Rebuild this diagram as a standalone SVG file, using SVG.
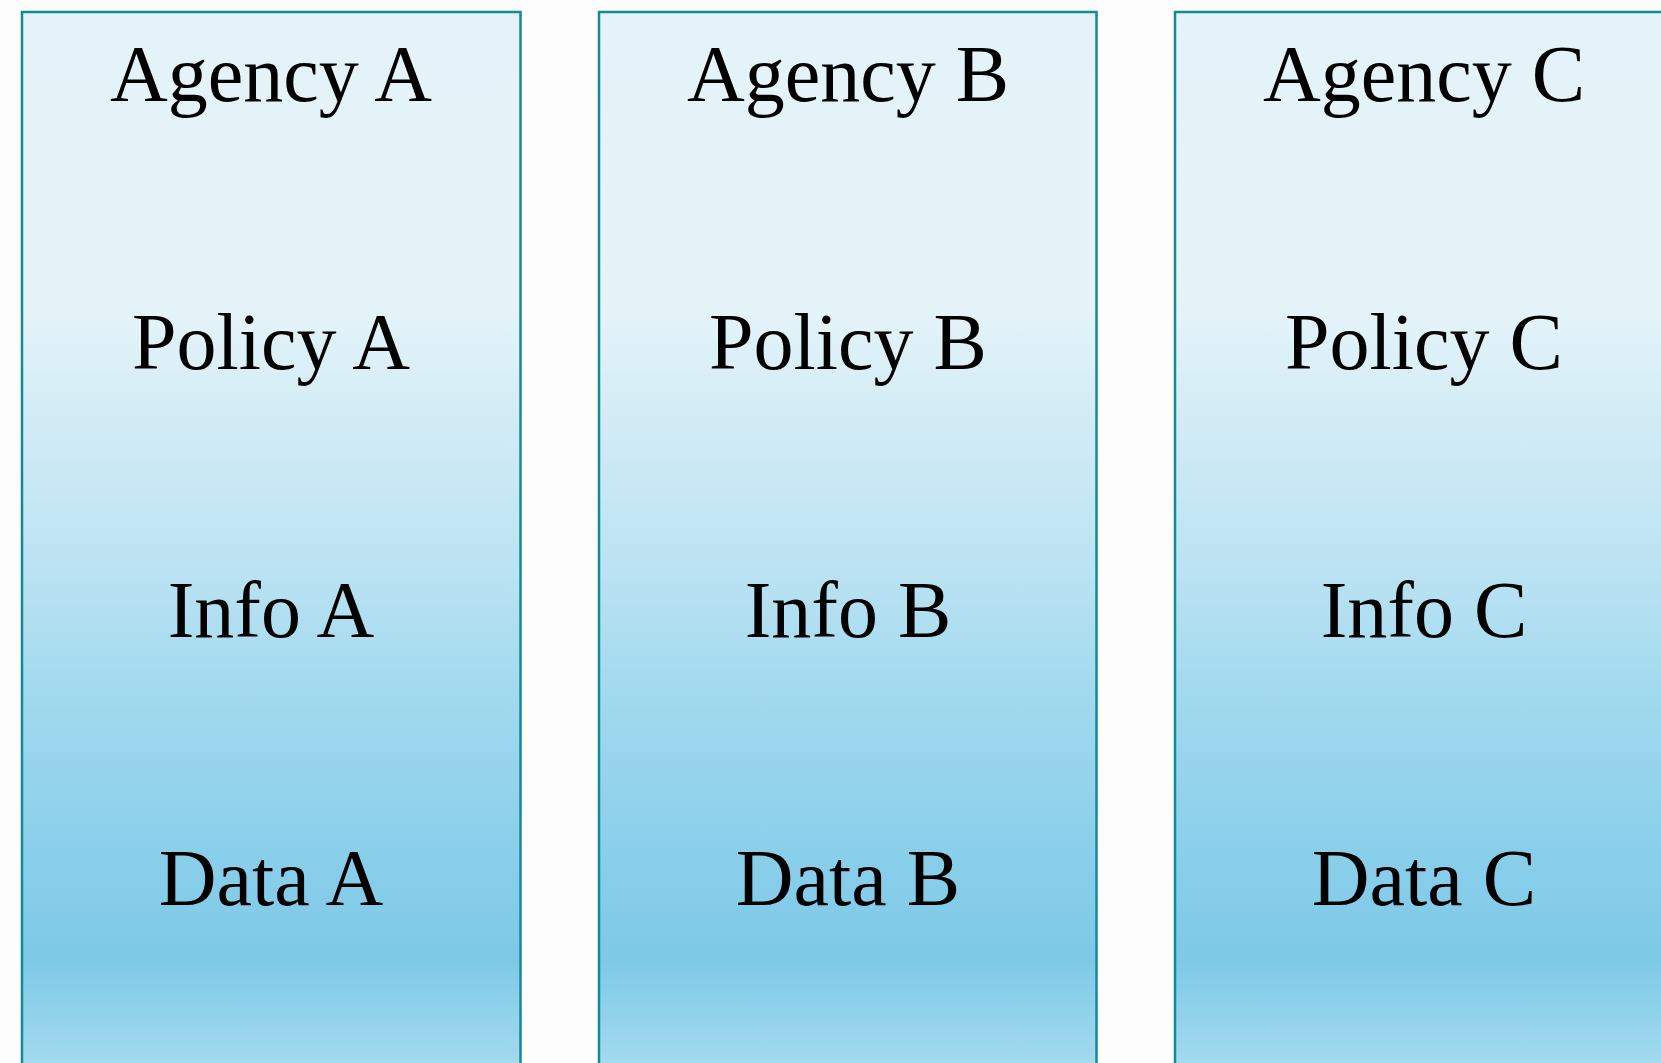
<svg xmlns="http://www.w3.org/2000/svg" width="1661" height="1063" viewBox="0 0 1661 1063">
  <defs>
    <linearGradient id="fill" gradientUnits="userSpaceOnUse" x1="0" y1="12" x2="0" y2="1063">
      <stop offset="0" stop-color="#E4F3F9"/>
      <stop offset="0.274" stop-color="#E6F4F9"/>
      <stop offset="0.369" stop-color="#D5EDF6"/>
      <stop offset="0.512" stop-color="#BEE4F3"/>
      <stop offset="0.654" stop-color="#A1D9EE"/>
      <stop offset="0.797" stop-color="#8ACFEA"/>
      <stop offset="0.902" stop-color="#7EC9E7"/>
      <stop offset="1" stop-color="#A3DAEF"/>
    </linearGradient>
  </defs>
  <style>
    .box { fill: url(#fill); stroke: #138A96; stroke-width: 2.5; }
    .lbl { font-family: "Liberation Serif", "DejaVu Serif", serif; font-size: 80px; fill: #000; text-anchor: middle; }
  </style>
  <rect x="0" y="0" width="1661" height="1063" fill="#FDFDFD"/>
  <g id="agency-a">
    <rect class="box" x="22" y="12" width="498.5" height="1070"/>
    <text class="lbl" x="271" y="101">Agency A</text>
    <text class="lbl" x="271" y="369">Policy A</text>
    <text class="lbl" x="271" y="637">Info A</text>
    <text class="lbl" x="271" y="905">Data A</text>
  </g>
  <g id="agency-b">
    <rect class="box" x="599" y="12" width="497.5" height="1070"/>
    <text class="lbl" x="848" y="101">Agency B</text>
    <text class="lbl" x="848" y="369">Policy B</text>
    <text class="lbl" x="848" y="637">Info B</text>
    <text class="lbl" x="848" y="905">Data B</text>
  </g>
  <g id="agency-c">
    <rect class="box" x="1175" y="12" width="498" height="1070"/>
    <text class="lbl" x="1424" y="101">Agency C</text>
    <text class="lbl" x="1424" y="369">Policy C</text>
    <text class="lbl" x="1424" y="637">Info C</text>
    <text class="lbl" x="1424" y="905">Data C</text>
  </g>
  <g id="connectors"/>
</svg>
